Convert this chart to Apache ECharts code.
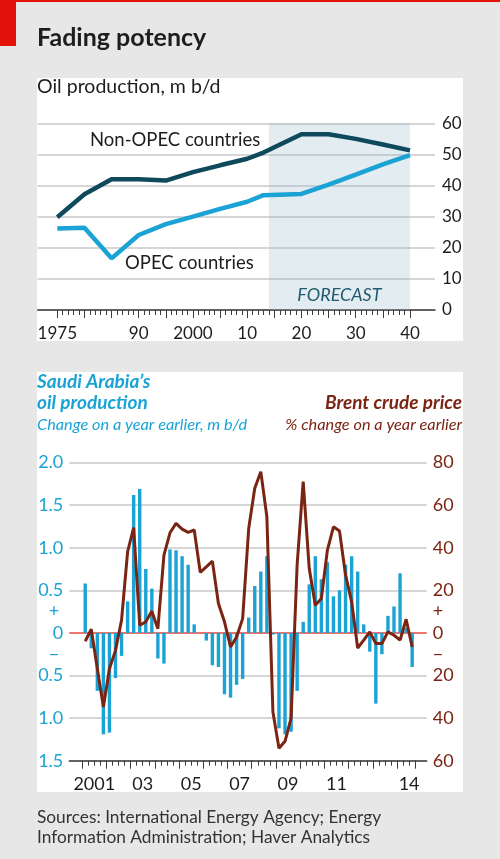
<!DOCTYPE html>
<html>
<head>
<meta charset="utf-8">
<script src="https://cdn.jsdelivr.net/npm/echarts/dist/echarts.min.js"></script>
<style>
  body { margin: 0; background: #e7e7e7; }
  .blk { position: absolute; }
</style>
</head>
<body>
<div class="blk" style="left:0;top:0;width:500px;height:2px;background:#e3120b"></div>
<div class="blk" style="left:0;top:0;width:16px;height:46px;background:#e3120b"></div>
<div class="blk" style="left:37px;top:78px;width:426px;height:263px;background:#fff"></div>
<div class="blk" style="left:37px;top:372px;width:426px;height:420px;background:#fff"></div>
<div id="main" class="blk" style="left:0;top:0;width:500px;height:859px"></div>
<script>
// top chart: oil production, m b/d
var topYears = [1975, 1980, 1985, 1990, 1995, 2000, 2005, 2010, 2013, 2020, 2025, 2030, 2035, 2040];
var nonOpec = [29.8, 37.2, 42.0, 42.0, 41.6, 44.3, 46.5, 48.6, 50.6, 56.5, 56.5, 55.0, 53.2, 51.3];
var opec = [26.2, 26.4, 16.6, 24.1, 27.6, 30.0, 32.5, 34.8, 36.9, 37.3, 40.3, 43.5, 46.8, 49.8];
var forecastFrom = 2014, forecastTo = 2040;
var topLabelYears = [1975, 1990, 2000, 2010, 2020, 2030, 2040];
var topLabelText = ['1975', '90', '2000', '10', '20', '30', '40'];

// bottom chart: quarterly, 2001 Q1 - 2014 Q3
var years = [2001, 2002, 2003, 2004, 2005, 2006, 2007, 2008, 2009, 2010, 2011, 2012, 2013, 2014];
var saudiChange = [
  0.58, -0.18, -0.68, -1.19, -1.17, -0.53, -0.27, 0.37,
  1.62, 1.69, 0.75, 0.52, -0.30, -0.36, 0.98, 0.97,
  0.90, 0.80, 0.10, 0.00, -0.09, -0.38, -0.40, -0.72,
  -0.76, -0.61, -0.54, 0.18, 0.55, 0.72, 0.90, -0.02,
  -1.12, -1.19, -1.16, -0.68, 0.13, 0.57, 0.90, 0.63,
  0.83, 0.43, 0.50, 0.80, 0.90, 0.72, 0.10, -0.22,
  -0.83, -0.25, 0.20, 0.31, 0.70, 0.06, -0.40
];
var brentChange = [
  -3.9, 1.7, -16.8, -34.8, -16.8, -8.2, 6.0, 38.1,
  49.4, 3.6, 5.2, 10.2, 2.0, 36.5, 47.0, 51.4,
  48.7, 47.2, 48.3, 28.4, 31.0, 33.7, 13.8, 5.2,
  -6.6, -1.9, 6.7, 49.0, 67.9, 75.7, 54.5, -37.1,
  -54.1, -50.9, -40.0, 32.0, 71.0, 30.2, 13.0, 16.1,
  38.9, 49.8, 47.8, 27.1, 14.6, -7.1, -3.4, 0.5,
  -5.0, -5.0, 0.5, -1.1, -3.4, 6.4, -6.6
];
var bottomLabelYears = [2001, 2003, 2005, 2007, 2009, 2011, 2014];
var bottomLabelText = ['2001', '03', '05', '07', '09', '11', '14'];

var quarters = [];
years.forEach(function (y) {
  ['Q1', 'Q2', 'Q3', 'Q4'].forEach(function (q) { quarters.push(y + ' ' + q); });
});
quarters = quarters.slice(0, saudiChange.length);

var FONT = 'Lato';
var BLUE = '#1aa3d4';
var DARK = '#0f4a5c';
var RED = '#7a2513';
var INK = '#1d1d1b';
var GRID = '#c9c9c9';
var TICK = '#3c3c3c';

function pairs(xs, ys) { return xs.map(function (x, i) { return [x, ys[i]]; }); }

var myChart = echarts.init(document.getElementById('main'));
myChart.setOption({
  animation: false,
  textStyle: { fontFamily: FONT },
  grid: [
    { left: 37.7, right: 65, top: 123.3, height: 186.7 },
    { left: 57.3, right: 90, top: 123.3, height: 186.7 },
    { left: 69.3, right: 73.3, top: 462.5, height: 298.2 },
    { left: 82.2, right: 84.8, top: 462.5, height: 298.2 },
    { left: 82.2, right: 78.8, top: 462.5, height: 298.2 }
  ],
  xAxis: [
    { gridIndex: 0, type: 'value', position: 'bottom', min: 0, max: 1,
      axisLine: { show: true, onZero: false, lineStyle: { color: TICK, width: 1.5 } },
      axisTick: { show: false }, axisLabel: { show: false }, splitLine: { show: false } },
    { gridIndex: 1, type: 'value', position: 'bottom', min: 1975, max: 2040, interval: 5,
      axisLine: { show: false, onZero: false },
      axisTick: { show: true, length: 8, lineStyle: { color: TICK } },
      minorTick: { show: true, splitNumber: 5, length: 5, lineStyle: { color: TICK } },
      splitLine: { show: false },
      axisLabel: { color: INK, fontSize: 17, margin: 15,
        formatter: function (v) { var i = topLabelYears.indexOf(v); return i < 0 ? '' : topLabelText[i]; } } },
    { gridIndex: 2, type: 'value', position: 'bottom', min: 0, max: 1,
      axisLine: { show: true, onZero: false, lineStyle: { color: TICK, width: 1.5 } },
      axisTick: { show: false }, axisLabel: { show: false }, splitLine: { show: false } },
    // quarterly ticks
    { gridIndex: 3, type: 'category', position: 'bottom', data: quarters, boundaryGap: true,
      axisLine: { show: false, onZero: false },
      axisTick: { show: true, interval: 0, length: 5, lineStyle: { color: TICK } },
      axisLabel: { show: false } },
    // longer ticks at the start of each year
    { gridIndex: 3, type: 'category', position: 'bottom', data: quarters, boundaryGap: true,
      axisLine: { show: false, onZero: false },
      axisTick: { show: true, length: 8, lineStyle: { color: TICK },
        interval: function (i) { return i % 4 === 0; } },
      axisLabel: { show: false } },
    // year labels, centred on each year
    { gridIndex: 4, type: 'category', position: 'bottom', data: years, boundaryGap: true,
      axisLine: { show: false, onZero: false }, axisTick: { show: false },
      axisLabel: { interval: 0, color: INK, fontSize: 18, margin: 14,
        formatter: function (v) { var i = bottomLabelYears.indexOf(+v); return i < 0 ? '' : bottomLabelText[i]; } } }
  ],
  yAxis: [
    { gridIndex: 0, type: 'value', position: 'right', min: 0, max: 60, interval: 10,
      axisLine: { show: false }, axisTick: { show: false },
      splitLine: { lineStyle: { color: GRID, width: 1.5 } },
      axisLabel: { color: INK, fontSize: 17, margin: 7 } },
    { gridIndex: 1, type: 'value', min: 0, max: 60, show: false },
    { gridIndex: 2, type: 'value', position: 'left', min: -1.5, max: 2, interval: 0.5,
      axisLine: { show: false }, axisTick: { show: false },
      splitLine: { lineStyle: { width: 1.5,
        color: [GRID, GRID, GRID, '#e8473d', GRID, GRID, GRID, GRID] } },
      axisLabel: { color: BLUE, fontSize: 18, margin: 6,
        formatter: function (v) { return v === 0 ? '0' : Math.abs(v).toFixed(1); } } },
    { gridIndex: 2, type: 'value', position: 'right', min: -60, max: 80, interval: 10,
      axisLine: { show: false }, axisTick: { show: false }, splitLine: { show: false },
      axisLabel: { color: RED, fontSize: 18, margin: 6,
        formatter: function (v) {
          if (v === 10) return '+';
          if (v === -10) return '\u2212';
          return v % 20 === 0 ? String(Math.abs(v)) : '';
        } } },
    { gridIndex: 2, type: 'value', position: 'left', min: -1.5, max: 2, interval: 0.25,
      axisLine: { show: false }, axisTick: { show: false }, splitLine: { show: false },
      axisLabel: { color: BLUE, fontSize: 18, margin: 10,
        formatter: function (v) {
          if (Math.abs(v - 0.25) < 1e-6) return '+';
          if (Math.abs(v + 0.25) < 1e-6) return '\u2212';
          return '';
        } } },
    { gridIndex: 3, type: 'value', min: -1.5, max: 2, show: false },
    { gridIndex: 3, type: 'value', min: -60, max: 80, show: false },
    { gridIndex: 4, type: 'value', show: false }
  ],
  series: [
    { name: 'OPEC countries', type: 'line', xAxisIndex: 1, yAxisIndex: 1,
      data: pairs(topYears, opec), symbol: 'none',
      lineStyle: { color: BLUE, width: 4.5 },
      markArea: { silent: true,
        itemStyle: { color: 'rgba(145,180,200,0.25)' },
        label: { show: true, position: 'insideBottom', distance: 6, formatter: 'FORECAST',
          fontStyle: 'italic', fontSize: 18, color: '#1f5a6e', fontFamily: FONT },
        data: [[{ xAxis: forecastFrom }, { xAxis: forecastTo }]] } },
    { name: 'Non-OPEC countries', type: 'line', xAxisIndex: 1, yAxisIndex: 1,
      data: pairs(topYears, nonOpec), symbol: 'none',
      lineStyle: { color: DARK, width: 4.5 } },
    { name: "Saudi Arabia's oil production", type: 'bar', xAxisIndex: 3, yAxisIndex: 5,
      data: saudiChange, barWidth: 3.4, itemStyle: { color: BLUE } },
    { name: 'Brent crude price', type: 'line', xAxisIndex: 3, yAxisIndex: 6,
      data: brentChange, symbol: 'none', z: 5,
      lineStyle: { color: RED, width: 3 } }
  ],
  graphic: { elements: [
    { type: 'text', x: 37, y: 38, style: { text: 'Fading potency', font: 'bold 25px ' + FONT, fill: INK, textAlign: 'left', textVerticalAlign: 'middle' } },
    { type: 'text', x: 37, y: 87, style: { text: 'Oil production, m b/d', font: '19.5px ' + FONT, fill: INK, textAlign: 'left', textVerticalAlign: 'middle' } },
    { type: 'text', x: 90, y: 140, style: { text: 'Non-OPEC countries', font: '18.5px ' + FONT, fill: INK, textAlign: 'left', textVerticalAlign: 'middle' } },
    { type: 'text', x: 125, y: 263, style: { text: 'OPEC countries', font: '18.5px ' + FONT, fill: INK, textAlign: 'left', textVerticalAlign: 'middle' } },
    { type: 'text', x: 37, y: 382, style: { text: 'Saudi Arabia\u2019s', font: 'italic bold 19px ' + FONT, fill: BLUE, textAlign: 'left', textVerticalAlign: 'middle' } },
    { type: 'text', x: 37, y: 403, style: { text: 'oil production', font: 'italic bold 19px ' + FONT, fill: BLUE, textAlign: 'left', textVerticalAlign: 'middle' } },
    { type: 'text', x: 37, y: 425, style: { text: 'Change on a year earlier, m b/d', font: 'italic 16.3px ' + FONT, fill: BLUE, textAlign: 'left', textVerticalAlign: 'middle' } },
    { type: 'text', x: 462, y: 403, style: { text: 'Brent crude price', font: 'italic bold 19px ' + FONT, fill: RED, textAlign: 'right', textVerticalAlign: 'middle' } },
    { type: 'text', x: 462, y: 425, style: { text: '% change on a year earlier', font: 'italic 16.3px ' + FONT, fill: RED, textAlign: 'right', textVerticalAlign: 'middle' } },
    { type: 'text', x: 37, y: 817, style: { text: 'Sources: International Energy Agency; Energy', font: '17.3px ' + FONT, fill: '#333', textAlign: 'left', textVerticalAlign: 'middle' } },
    { type: 'text', x: 37, y: 837, style: { text: 'Information Administration; Haver Analytics', font: '17.3px ' + FONT, fill: '#333', textAlign: 'left', textVerticalAlign: 'middle' } }
  ] }
});
</script>
</body>
</html>
